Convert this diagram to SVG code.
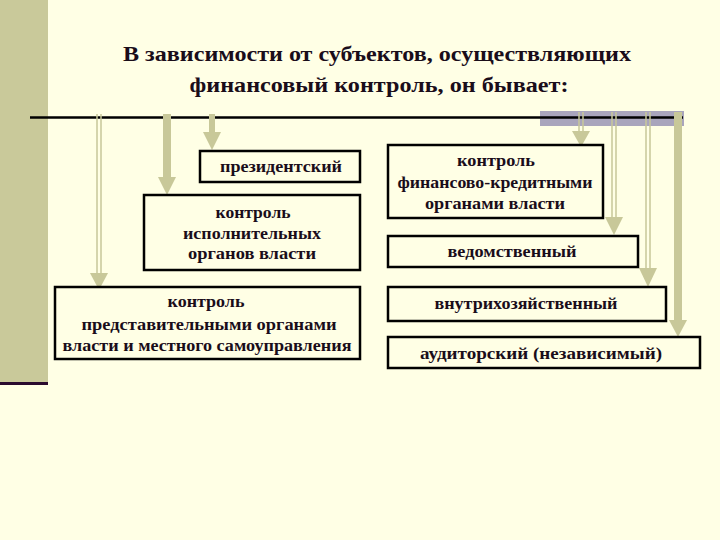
<svg xmlns="http://www.w3.org/2000/svg" width="720" height="540" viewBox="0 0 720 540">
<style>
.t{font-family:"Liberation Serif","Times New Roman",serif;font-weight:bold;fill:#1a0d1a;text-anchor:middle}
.title{font-size:21px}
.bt{font-size:16px}
.box{fill:#FFFFE5;stroke:#000;stroke-width:2.5}
.arr{fill:#C8C899}
.dbl{stroke:#C8C899;stroke-width:1.5;fill:none}
</style>
<rect width="720" height="540" fill="#FFFFE5"/>
<rect x="0" y="0" width="48" height="382" fill="#C9C99A"/>
<rect x="0" y="382" width="48" height="3" fill="#2A0A2E"/>
<g id="title">
<text class="t title" x="377" y="61" textLength="508" lengthAdjust="spacingAndGlyphs">В зависимости от субъектов, осуществляющих</text>
<text class="t title" x="379" y="92" textLength="379" lengthAdjust="spacingAndGlyphs">финансовый контроль, он бывает:</text>
</g>
<rect x="540" y="111" width="144" height="15" fill="#A9A5BC"/>
<line x1="30" y1="117.5" x2="683" y2="117.5" stroke="#000" stroke-width="2.5"/>
<g id="connectors">
<path class="dbl" d="M97 114V274M101 114V274"/><path class="arr" d="M90 273H108L99 290Z"/>
<rect class="arr" x="163" y="114" width="8" height="64"/><path class="arr" d="M158 177H176L167 195Z"/>
<rect class="arr" x="209" y="114" width="6" height="19"/><path class="arr" d="M203 132H221L212 150Z"/>
<path class="dbl" d="M579 112V132M583 112V132"/><path class="arr" d="M572 131H590L581 147Z"/>
<path class="dbl" d="M612 112V218M616 112V218"/><path class="arr" d="M605 217H623L614 235Z"/>
<path class="dbl" d="M646 112V269M650 112V269"/><path class="arr" d="M639 268H657L648 287Z"/>
<rect class="arr" x="674" y="112" width="8" height="209"/><path class="arr" d="M669 320H687L678 337Z"/>
</g>
<g id="n1"><rect class="box" x="200" y="151" width="160" height="31"/><text class="t bt" x="281" y="172" textLength="122" lengthAdjust="spacingAndGlyphs">президентский</text></g>
<g id="n2"><rect class="box" x="144" y="195" width="216" height="75"/>
<text class="t bt" x="253" y="218" textLength="75" lengthAdjust="spacingAndGlyphs">контроль</text>
<text class="t bt" x="252" y="239" textLength="138" lengthAdjust="spacingAndGlyphs">исполнительных</text>
<text class="t bt" x="252" y="259" textLength="128" lengthAdjust="spacingAndGlyphs">органов власти</text></g>
<g id="n3"><rect class="box" x="55" y="287" width="305" height="72"/>
<text class="t bt" x="206" y="307" textLength="77" lengthAdjust="spacingAndGlyphs">контроль</text>
<text class="t bt" x="209" y="330" textLength="255" lengthAdjust="spacingAndGlyphs">представительными органами</text>
<text class="t bt" x="207" y="351" textLength="289" lengthAdjust="spacingAndGlyphs">власти и местного самоуправления</text></g>
<g id="n4"><rect class="box" x="388" y="145" width="215" height="73"/>
<text class="t bt" x="496" y="166" textLength="78" lengthAdjust="spacingAndGlyphs">контроль</text>
<text class="t bt" x="495" y="188" textLength="195" lengthAdjust="spacingAndGlyphs">финансово-кредитными</text>
<text class="t bt" x="495" y="209" textLength="140" lengthAdjust="spacingAndGlyphs">органами власти</text></g>
<g id="n5"><rect class="box" x="388" y="236" width="250" height="31"/>
<text class="t bt" x="512" y="257" textLength="129" lengthAdjust="spacingAndGlyphs">ведомственный</text></g>
<g id="n6"><rect class="box" x="388" y="287" width="278" height="34"/>
<text class="t bt" x="526" y="309" textLength="183" lengthAdjust="spacingAndGlyphs">внутрихозяйственный</text></g>
<g id="n7"><rect class="box" x="388" y="337" width="312" height="31"/>
<text class="t bt" x="541" y="359" textLength="242" lengthAdjust="spacingAndGlyphs">аудиторский (независимый)</text></g>
</svg>
